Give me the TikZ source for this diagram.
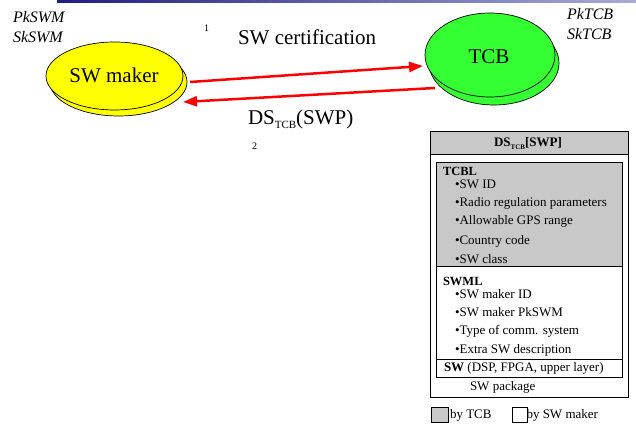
\documentclass[tikz,border=0pt]{standalone}
\usepackage{fontspec}
\setmainfont{Liberation Serif}
\usetikzlibrary{shapes.geometric,arrows.meta}

\definecolor{makeryellow}{RGB}{255,255,0}
\definecolor{tcbgreen}{RGB}{51,255,51}
\definecolor{layergrey}{RGB}{200,200,200}
\definecolor{barnavy}{RGB}{30,30,130}
\definecolor{barlight}{RGB}{170,170,215}
\definecolor{arrowred}{RGB}{255,0,0}

% subscript used in the signature labels
\newcommand\subtcb[2]{\raisebox{#1}{\fontsize{#2}{#2}\selectfont TCB}}

\begin{document}
\begin{tikzpicture}[x=1pt,y=-1pt,
  every node/.style={inner sep=0pt,outer sep=0pt},
  party/.style={ellipse,draw=black,line width=0.7pt},
  bigtext/.style={font=\fontsize{21}{25}\selectfont,anchor=base},
  keytext/.style={font=\fontsize{16}{19}\selectfont\itshape,anchor=base west},
  numtext/.style={font=\fontsize{10}{12}\selectfont,anchor=base west},
  msg/.style={draw=arrowred,line width=2.5pt,-{Triangle[length=14pt,width=10pt]}},
  layer/.style={draw=black,line width=0.8pt,anchor=north west},
  boxtext/.style={font=\fontsize{13}{15}\selectfont,anchor=base west},
  boxhead/.style={font=\fontsize{12.5}{15}\selectfont\bfseries,anchor=base west},
]
\useasboundingbox (0,0) rectangle (636,427);

% title bar
\shade[left color=barnavy,right color=barlight] (57,0) rectangle (636,2.5);

% the two parties, each with an offset copy behind it
\node[party,fill=makeryellow,minimum width=137pt,minimum height=68pt] (swmS) at (118.5,82) {};
\node[party,fill=makeryellow,minimum width=137pt,minimum height=68pt] (swm) at (114.5,76) {};
\node[bigtext] (swmT) at (114,83) {SW maker};

\node[party,fill=tcbgreen,minimum width=130pt,minimum height=84pt] (tcbS) at (494,63) {};
\node[party,fill=tcbgreen,minimum width=130pt,minimum height=84pt] (tcb) at (490,55) {};
\node[bigtext] (tcbT) at (489,64) {TCB};

% key pairs
\node[keytext] (pkswm) at (13,23) {PkSWM};
\node[keytext] (skswm) at (13,43) {SkSWM};
\node[keytext] (pktcb) at (567,20) {PkTCB};
\node[keytext] (sktcb) at (567,40) {SkTCB};

% messages
\draw[msg] ([shift={(3,0)}]swmS.east) -- ([shift={(-67,11)}]tcb.center);
\draw[msg] ([shift={(-55,33)}]tcb.center) -- ([shift={(-4,20)}]swmS.east);

\node[numtext] (n1) at (204,32) {1};
\node[bigtext,anchor=base west] (m1) at (238,45) {SW certification};
\node[bigtext,anchor=base west] (m2) at (248,125) {DS\subtcb{-4pt}{11}(SWP)};
\node[numtext] (n2) at (252,150) {2};

% software package
\node[layer,minimum width=198pt,minimum height=266pt] (pkg) at (430,131) {};
\node[layer,fill=layergrey,minimum width=198pt,minimum height=23pt] (head) at (430,131) {};
\node[font=\fontsize{13}{15}\selectfont\bfseries,anchor=base] (headT) at (528,147) {DS\subtcb{-3pt}{7}[SWP]};

\node[layer,fill=layergrey,minimum width=186pt,minimum height=104pt] (tcbl) at (436,162) {};
\node[layer,fill=white,minimum width=186pt,minimum height=93pt] (swml) at (436,266) {};
\node[layer,fill=white,minimum width=186pt,minimum height=18pt] (swl) at (436,359) {};

\node[boxhead] (tcblT) at (443,176) {TCBL};
\node[boxtext] (t1) at (455,189) {•SW ID};
\node[boxtext] (t2) at (455,207) {•Radio regulation parameters};
\node[boxtext] (t3) at (455,225) {•Allowable GPS range};
\node[boxtext] (t4) at (455,244) {•Country code};
\node[boxtext] (t5) at (455,263) {•SW class};

\node[boxhead] (swmlT) at (443,285) {SWML};
\node[boxtext] (s1) at (455,298) {•SW maker ID};
\node[boxtext] (s2) at (455,316) {•SW maker PkSWM};
\node[boxtext] (s3) at (455,334) {•Type of comm. system};
\node[boxtext] (s4) at (455,353) {•Extra SW description};

\node[boxtext] (swT) at (444,371) {\textbf{SW} (DSP, FPGA, upper layer)};
\node[boxtext] (pkgT) at (470,390) {SW package};

% legend
\node[layer,fill=layergrey,minimum width=17pt,minimum height=15pt] (legG) at (431,407) {};
\node[boxtext] (legGT) at (450,418) {by TCB};
\node[layer,fill=white,minimum width=15pt,minimum height=15pt] (legW) at (512,407) {};
\node[boxtext] (legWT) at (526.5,418) {by SW maker};
\end{tikzpicture}
\end{document}
